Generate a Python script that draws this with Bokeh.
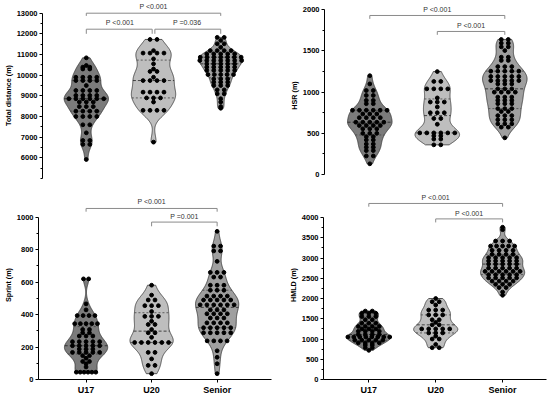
import numpy as np
from bokeh.plotting import figure
from bokeh.layouts import column, row
from bokeh.models import Range1d, FixedTicker
from bokeh.core.properties import value
from bokeh.embed import file_html
from bokeh.resources import INLINE

# ---------------- data ----------------
categories = ["U17", "U20", "Senior"]

td_u17 = [5920, 6650, 6650, 6840, 6840, 7210, 7600, 7600, 8000, 8000, 8000, 8000,
          8260, 8260, 8260, 8260, 8480, 8480, 8480, 8700, 8700, 8700,
          8860, 8860, 8860, 8860, 8860, 8860, 9020, 9020, 9020, 9020,
          9260, 9260, 9260, 9260, 9500, 9740, 9740, 9740, 9740, 9900, 9900, 9900, 9900,
          10300, 10300, 10390, 10390, 10470, 10840]
td_u20 = [6760, 8300, 8300, 8300, 8300, 8700, 8900, 8900, 8900, 9180, 9180, 9180, 9180,
          9740, 9740, 9740, 9740, 9900, 10180, 10180, 10300, 10550, 10790,
          11070, 11070, 11070, 11070, 11190, 11730, 11730]
td_sen = [8400, 8480, 8700, 8860, 9100, 9100, 9290, 9290, 9500, 9500, 9500,
          9660, 9660, 9660, 9820, 9820, 9820,
          10030, 10030, 10030, 10030, 10030, 10230, 10230, 10230, 10230, 10230,
          10390, 10390, 10390, 10390, 10390, 10550, 10550, 10550, 10550, 10550,
          10710, 10710, 10710, 10710, 10710, 10710, 10710,
          10870, 10870, 10870, 10870, 10870, 10870, 10870,
          11030, 11030, 11030, 11030, 11030, 11190, 11190, 11190, 11190,
          11350, 11520, 11520, 11680, 11830, 11830]

hsr_u17 = [130, 225, 225, 290, 290, 330, 330, 370, 370, 420, 420, 460, 460,
           500, 500, 500, 555, 555, 555, 595, 595, 595, 595, 635, 635, 635, 635, 635,
           690, 690, 690, 690, 735, 735, 735, 780, 780, 780, 780, 780, 780,
           860, 860, 900, 900, 960, 960, 1020, 1020, 1100, 1200]
hsr_u20 = [360, 360, 430, 430, 470, 470, 505, 505, 505, 505, 505, 505, 610, 680, 680,
           750, 750, 750, 820, 880, 880, 880, 930, 1040, 1040, 1040, 1040, 1130, 1130, 1250]
hsr_sen = [445, 575, 575, 615, 615, 615, 665, 665, 665, 715, 715, 715, 765, 765,
           800, 800, 800, 860, 860, 860, 900, 900, 900, 940, 940, 940,
           1000, 1000, 1000, 1000, 1040, 1040, 1040, 1100, 1100, 1100,
           1140, 1140, 1140, 1140, 1140, 1190, 1190, 1190, 1190, 1190,
           1255, 1255, 1255, 1255, 1255, 1310, 1310, 1310, 1385, 1385, 1425, 1425,
           1505, 1550, 1550, 1595, 1595, 1640, 1640]

spr_u17 = [45, 45, 45, 45, 45, 45, 77, 97, 111, 111, 131, 147, 147,
           167, 167, 167, 167, 167, 187, 187, 187, 208, 208, 208, 208, 208,
           233, 233, 233, 233, 233, 268, 268, 268, 288, 288, 308, 308,
           344, 344, 344, 344, 344, 394, 394, 394, 394, 429, 466, 620, 620]
spr_u20 = [36, 87, 87, 127, 167, 167, 228, 228, 228, 228, 228, 228, 260, 288, 288, 308,
           339, 339, 359, 389, 389, 389, 419, 455, 455, 455, 490, 490, 520, 581]
spr_sen = [36, 97, 137, 177, 238, 238, 238, 238, 288, 288, 288, 288, 288,
           319, 319, 319, 319, 319, 349, 349, 349, 349, 379, 379, 379,
           405, 405, 405, 405, 429, 429, 429, 460, 460, 460, 460, 460, 460,
           490, 490, 490, 490, 490, 514, 514, 514, 514, 550, 550, 550,
           581, 581, 581, 631, 631, 660, 660, 660, 728, 792, 792, 822, 822, 913]

hmld_u17 = [720, 785, 785, 850, 850, 905, 905, 905, 905, 970, 970, 970, 970, 970,
            1050, 1050, 1050, 1050, 1050, 1050, 1050, 1050, 1110, 1110, 1110, 1110,
            1190, 1190, 1190, 1190, 1250, 1250, 1250, 1310, 1310, 1310, 1310,
            1390, 1390, 1390, 1475, 1475, 1555, 1555, 1555, 1635, 1635, 1635, 1690, 1690]
hmld_u20 = [785, 785, 865, 1000, 1000, 1070, 1150, 1150, 1150, 1250, 1250, 1250, 1250, 1250,
            1350, 1350, 1410, 1475, 1475, 1595, 1595, 1595, 1715, 1715, 1715, 1840,
            1920, 1920, 2000]
hmld_sen = [2080, 2160, 2270, 2270, 2350, 2350, 2350, 2430, 2430, 2430, 2430,
            2510, 2510, 2510, 2510, 2510, 2590, 2590, 2590, 2590, 2590,
            2670, 2670, 2670, 2670, 2670, 2670, 2750, 2750, 2750, 2750, 2750,
            2850, 2850, 2850, 2850, 2850, 2930, 2930, 2930, 2930, 2930,
            3010, 3010, 3010, 3010, 3010, 3090, 3090, 3090, 3090, 3190, 3190, 3190, 3190,
            3295, 3295, 3295, 3295, 3295, 3420, 3420, 3420, 3700, 3760]

p_td = [(0, 2, "P <0.001"), (0, 1, "P <0.001"), (1, 2, "P =0.036")]
p_hsr = [(0, 2, "P <0.001"), (1, 2, "P <0.001")]
p_spr = [(0, 2, "P <0.001"), (1, 2, "P =0.001")]
p_hmld = [(0, 2, "P <0.001"), (1, 2, "P <0.001")]

# ---------------- styling ----------------
FONT = "Liberation Sans"
FILLS = ["#7b7b7b", "#bebebe", "#9f9f9f"]
HALF_W = 0.33
DOT_GAP_PX = 7.0


def kde_profile(vals, f=0.7, n=200):
    v = np.asarray(vals, float)
    sd = v.std(ddof=1)
    q75, q25 = np.percentile(v, [75, 25])
    bw = f * 0.9 * min(sd, (q75 - q25) / 1.34) * len(v) ** -0.2
    g = np.linspace(v.min(), v.max(), n)
    d = np.exp(-0.5 * ((g[:, None] - v[None, :]) / bw) ** 2).sum(1)
    return g, d / d.max() * HALF_W


def make_panel(groups, pvals, brackets, ylabel, width, height, left, right, bottom,
               c0_px, unit_px, yA, yB, yticks, yminor, ybounds, show_x, gap=0.0):
    fh = height - bottom
    k = (yA[1] - yB[1]) / (yB[0] - yA[0])
    y0 = yA[0] - (fh - yA[1]) / k
    y1 = yB[0] + yB[1] / k
    x0 = (left - c0_px) / unit_px
    x1 = (width - right - c0_px) / unit_px
    p = figure(width=width, height=height, x_range=Range1d(x0, x1), y_range=Range1d(y0, y1),
               output_backend="svg", toolbar_location=None,
               min_border_left=left, min_border_right=right, min_border_top=0,
               min_border_bottom=bottom)
    p.outline_line_color = None
    p.grid.visible = False
    p.background_fill_color = "white"

    for i, vals in enumerate(groups):
        g, hw = kde_profile(vals)
        xs = np.concatenate([i + hw, (i - hw)[::-1]])
        ys = np.concatenate([g, g[::-1]])
        p.patch(xs, ys, fill_color=FILLS[i], line_color="#333333", line_width=0.8)
        q1, med, q3 = np.percentile(vals, [25, 50, 75])
        for q, dash, col in [(q1, "2 2", "#444444"), (med, "3 2", "#222222"), (q3, "2 2", "#444444")]:
            w = float(np.interp(q, g, hw))
            p.segment(x0=[i - w], y0=[q], x1=[i + w], y1=[q], line_color=col,
                      line_width=0.8, line_dash=dash)
        # points laid out row by row
        uv, cnt = np.unique(np.asarray(vals), return_counts=True)
        px, py = [], []
        for v, n in zip(uv, cnt):
            cap = max(float(np.interp(v, g, hw)) * 0.95, 0.025)
            s = DOT_GAP_PX / unit_px
            if n > 1:
                s = min(s, 2 * cap / (n - 1))
            for j in range(n):
                px.append(i + (j - (n - 1) / 2) * s)
                py.append(v)
        p.scatter(px, py, size=3.8, color="black", line_color="black")

    for (a, b, txt), (yl, drop, yt) in zip(pvals, brackets):
        xa = a + (gap if a == 1 else 0)
        xb = b - (gap if b == 1 else 0)
        p.multi_line(xs=[[xa, xa, xb, xb]], ys=[[yl - drop, yl, yl, yl - drop]],
                     line_color="#8a8a8a", line_width=1)
        p.text(x=[(a + b) / 2], y=[yt], text=[txt], text_font=value(FONT),
               text_font_size=value("7px"), text_align="center", text_baseline="middle",
               text_color="#333333")

    ax = p.yaxis[0]
    ax.ticker = FixedTicker(ticks=yticks, minor_ticks=yminor)
    ax.bounds = ybounds
    ax.axis_label = ylabel
    ax.axis_label_text_font = FONT
    ax.axis_label_text_font_style = "bold"
    ax.axis_label_text_font_size = "7.2px"
    ax.axis_label_text_color = "black"
    ax.axis_label_standoff = 1
    ax.major_label_text_font = FONT
    ax.major_label_text_font_style = "bold"
    ax.major_label_text_font_size = "7.5px"
    ax.major_label_text_color = "black"
    ax.major_label_standoff = 2
    ax.major_tick_out = 3
    ax.major_tick_in = 0
    ax.minor_tick_out = 2
    ax.minor_tick_in = 0
    ax.axis_line_color = "black"
    ax.major_tick_line_color = "black"
    ax.minor_tick_line_color = "black"

    if show_x:
        xa_ = p.xaxis[0]
        xa_.ticker = FixedTicker(ticks=[0, 1, 2])
        xa_.major_label_overrides = {0: categories[0], 1: categories[1], 2: categories[2]}
        xa_.major_label_text_font = FONT
        xa_.major_label_text_font_style = "bold"
        xa_.major_label_text_font_size = "9px"
        xa_.major_label_text_color = "black"
        xa_.major_label_standoff = 2
        xa_.major_tick_out = 3
        xa_.major_tick_in = 0
        xa_.axis_line_color = "black"
        xa_.major_tick_line_color = "black"
    else:
        p.xaxis.visible = False
    return p


p1 = make_panel([td_u17, td_u20, td_sen], p_td,
                [(13000, 130, 13324), (12226, 223, 12535), (12226, 223, 12535)],
                "Total distance (m)", 275, 190, 41, 2, 0, 85, 67.5,
                (5000, 178.0), (13000, 12.7),
                list(range(6000, 13001, 1000)), list(range(5000, 13000, 500)),
                (5000, 13000), False, gap=0.02)
p2 = make_panel([hsr_u17, hsr_u20, hsr_sen], p_hsr,
                [(1931, 41, 2000), (1737, 41, 1809)],
                "HSR (m)", 274, 190, 49, 1, 0, 94.3, 67.5,
                (0, 174.0), (2000, 9.3),
                list(range(0, 2001, 500)), list(range(250, 2000, 500)),
                (0, 2000), False)
p3 = make_panel([spr_u17, spr_u20, spr_sen], p_spr,
                [(1054, 20, 1098), (970, 26, 1004)],
                "Sprint (m)", 275, 207, 31, 4, 16, 80, 67.5,
                (0, 191), (1000, 27),
                list(range(0, 1001, 200)), list(range(100, 1000, 200)),
                (0, 1000), True)
p4 = make_panel([hmld_u17, hmld_u20, hmld_sen], p_hmld,
                [(4347, 80, 4493), (3966, 87, 4104)],
                "HMLD (m)", 274, 207, 48, 3, 16, 93.3, 66.9,
                (0, 191), (4000, 27.3),
                list(range(0, 4001, 500)), list(range(250, 4000, 500)),
                (0, 4000), True)

layout = column(row(p1, p2), row(p3, p4))
open("out.html", "w").write(file_html(layout, INLINE))
